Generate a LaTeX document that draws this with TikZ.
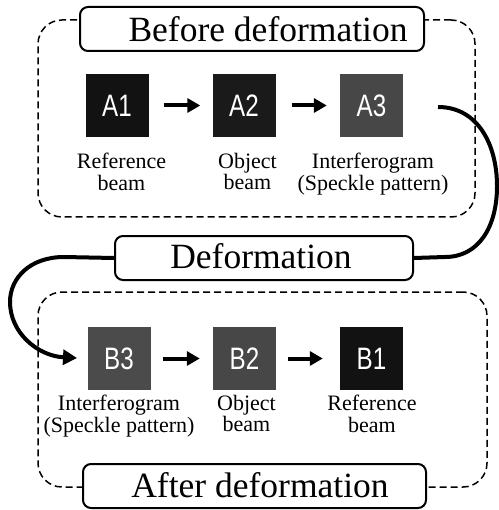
\documentclass[tikz,border=0pt]{standalone}
\usepackage{fontspec}
\setmainfont{Liberation Serif}
\newfontfamily\sqfont[FakeStretch=0.78]{Liberation Sans}
\usetikzlibrary{arrows.meta}
\definecolor{sqA}{HTML}{121212}
\definecolor{sqB}{HTML}{1A1A1A}
\definecolor{sqC}{HTML}{474747}
\definecolor{sqD}{HTML}{4B4B4B}
\tikzset{
  dashbox/.style={draw, dash pattern=on 7pt off 4pt, line width=1.5pt, rounded corners=24pt, inner sep=0pt},
  labelbox/.style={draw, fill=white, line width=2pt, rounded corners=8pt, inner sep=0pt, minimum height=44pt},
  bigtext/.style={font=\fontsize{35.5}{40}\selectfont, inner sep=0pt, anchor=base},
  sq/.style={minimum size=63pt, inner sep=0pt, text=white, font=\sqfont\fontsize{31}{32}\selectfont},
  captext/.style={font=\fontsize{22}{21.5}\selectfont, align=center, inner sep=0pt, anchor=north},
  arr/.style={line width=4pt, -{Triangle[length=13pt,width=14pt]}},
  curve/.style={line width=4pt},
}
\begin{document}
\begin{tikzpicture}[x=1pt,y=-1pt]
\useasboundingbox (0,0) rectangle (498,510);
% containers
\node[dashbox, minimum width=437pt, minimum height=197pt] (topgrp) at (256.5,118.5) {};
\node[dashbox, minimum width=449pt, minimum height=195pt] (botgrp) at (262.5,389.5) {};
% title boxes
\node[labelbox, minimum width=344pt] (bbox) at (252,29) {};
\node[bigtext] (btext) at (268,42) {Before deformation};
\node[labelbox, minimum width=298pt] (dbox) at (264,258) {};
\node[bigtext] (dtext) at (261,268) {Deformation};
\node[labelbox, minimum width=343pt] (abox) at (254.5,486) {};
\node[bigtext] (atext) at (260,497) {After deformation};
% squares
\node[sq, fill=sqA] (A1) at (117,105.5) {A1};
\node[sq, fill=sqB] (A2) at (244,105.5) {A2};
\node[sq, fill=sqC] (A3) at (371.5,105.5) {A3};
\node[sq, fill=sqD] (B3) at (119,358.5) {B3};
\node[sq, fill=sqC] (B2) at (244.5,358.5) {B2};
\node[sq, fill=sqA] (B1) at (371.5,358.5) {B1};
% captions
\node[captext] (cA1) at (121.5,153) {Reference\\beam};
\node[captext] (cA2) at (247.5,153) {Object\\beam};
\node[captext] (cA3) at (373,153) {Interferogram\\(Speckle pattern)};
\node[captext] (cB3) at (119,395) {Interferogram\\(Speckle pattern)};
\node[captext] (cB2) at (246.5,395) {Object\\beam};
\node[captext] (cB1) at (372,395) {Reference\\beam};
% arrows
\draw[arr, shorten <=15pt, shorten >=12pt] (A1.east) -- (A2.west);
\draw[arr, shorten <=16pt, shorten >=13pt] (A2.east) -- (A3.west);
\draw[arr, shorten <=12pt, shorten >=13pt] (B3.east) -- (B2.west);
\draw[arr, shorten <=12pt, shorten >=17pt] (B2.east) -- (B1.west);
% connectors
\coordinate (r0) at (438,107);
\coordinate (l1) at (77,358);
\draw[curve] (r0) .. controls (478,107) and (497,145) .. (497,186)
  .. controls (497,228) and (478,257) .. (445,257) -- (dbox.east);
\draw[curve, -{Triangle[length=14pt,width=15pt]}] (dbox.west) -- (64,257)
  .. controls (30,257) and (10,278) .. (10,302)
  .. controls (10,333) and (38,356) .. (l1);
\end{tikzpicture}
\end{document}
